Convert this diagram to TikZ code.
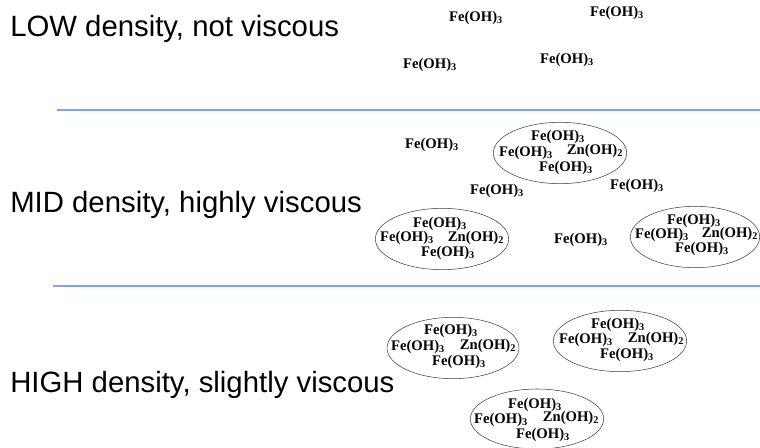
\documentclass[tikz,border=0pt]{standalone}
\usepackage{fontspec}
\setmainfont{Liberation Sans}
\newfontfamily\chemfont{Liberation Serif}
\usetikzlibrary{shapes.geometric}
\definecolor{rulerblue}{HTML}{7FA6E3}
\definecolor{blobgrey}{HTML}{404040}

\tikzset{
    label/.style={anchor=base west, inner sep=0pt, font=\fontsize{22}{26}\selectfont},
    chem/.style={inner sep=0pt, font=\chemfont\bfseries\fontsize{11}{13}\selectfont},
    blob/.style={draw=blobgrey, ellipse, thin, minimum width=100pt, minimum height=46pt, inner sep=0pt},
    divider/.style={rulerblue, line width=0.9pt}
}
\newcommand{\feoh}{Fe(OH)\textsubscript{3}}
\newcommand{\znoh}{Zn(OH)\textsubscript{2}}

\begin{document}
\begin{tikzpicture}[x=0.75pt, y=-0.75pt]

    \useasboundingbox (0,0) rectangle (760,448);

    % Labels
        \node [label] (low)  at (10, 37)  {LOW density, not viscous};
        \node [label] (mid)  at (10, 213) {MID density, highly viscous};
        \node [label] (high) at (10, 393) {HIGH density, slightly viscous};

    % Dividers
        \coordinate (d1a) at (57, 110);
        \coordinate (d1b) at (760, 110);
        \coordinate (d2a) at (53, 286);
        \coordinate (d2b) at (760, 286);
        \draw [divider] (d1a) -- (d1b);
        \draw [divider] (d2a) -- (d2b);

    % LOW density
        \node [chem] (l1) at (476, 18) {\feoh};
        \node [chem] (l2) at (617, 13) {\feoh};
        \node [chem] (l3) at (430, 65) {\feoh};
        \node [chem] (l4) at (567, 60) {\feoh};

    % MID density
        %% free particles
        \node [chem] (m1) at (432, 145) {\feoh};
        \node [chem] (m2) at (497, 191) {\feoh};
        \node [chem] (m3) at (637, 186) {\feoh};
        \node [chem] (m4) at (581, 240) {\feoh};

        %% cluster 1
        \begin{scope}[shift={(560, 153)}]
            \node [blob] (mc1) at (0, 0) {};
            \node [chem] (mc1t) at (-2, -16) {\feoh};
            \node [chem] (mc1l) at (-34, 0) {\feoh};
            \node [chem] (mc1r) at (35, -2) {\znoh};
            \node [chem] (mc1b) at (6, 15) {\feoh};
        \end{scope}

        %% cluster 2
        \begin{scope}[shift={(442, 239)}]
            \node [blob] (mc2) at (0, 0) {};
            \node [chem] (mc2t) at (-2, -15) {\feoh};
            \node [chem] (mc2l) at (-35, -1) {\feoh};
            \node [chem] (mc2r) at (34, -1) {\znoh};
            \node [chem] (mc2b) at (6, 14) {\feoh};
        \end{scope}

        %% cluster 3
        \begin{scope}[shift={(695, 237)}]
            \node [blob, minimum width=97pt] (mc3) at (0, 0) {};
            \node [chem] (mc3t) at (-1, -16) {\feoh};
            \node [chem] (mc3l) at (-33, -2) {\feoh};
            \node [chem] (mc3r) at (35, -3) {\znoh};
            \node [chem] (mc3b) at (7, 12) {\feoh};
        \end{scope}

    % HIGH density
        %% cluster 1
        \begin{scope}[shift={(453, 348)}]
            \node [blob, minimum width=99pt] (hc1) at (0, 0) {};
            \node [chem] (hc1t) at (-2, -17) {\feoh};
            \node [chem] (hc1l) at (-35, -1) {\feoh};
            \node [chem] (hc1r) at (35, -2) {\znoh};
            \node [chem] (hc1b) at (6, 14) {\feoh};
        \end{scope}

        %% cluster 2
        \begin{scope}[shift={(620, 341)}]
            \node [blob] (hc2) at (0, 0) {};
            \node [chem] (hc2t) at (-2, -16) {\feoh};
            \node [chem] (hc2l) at (-34, -1) {\feoh};
            \node [chem] (hc2r) at (36, -2) {\znoh};
            \node [chem] (hc2b) at (7, 14) {\feoh};
        \end{scope}

        %% cluster 3
        \begin{scope}[shift={(537, 419)}]
            \node [blob, minimum height=45pt] (hc3) at (0, 0) {};
            \node [chem] (hc3t) at (-2, -14) {\feoh};
            \node [chem] (hc3l) at (-36, 1) {\feoh};
            \node [chem] (hc3r) at (34, -1) {\znoh};
            \node [chem] (hc3b) at (6, 16) {\feoh};
        \end{scope}

\end{tikzpicture}
\end{document}
